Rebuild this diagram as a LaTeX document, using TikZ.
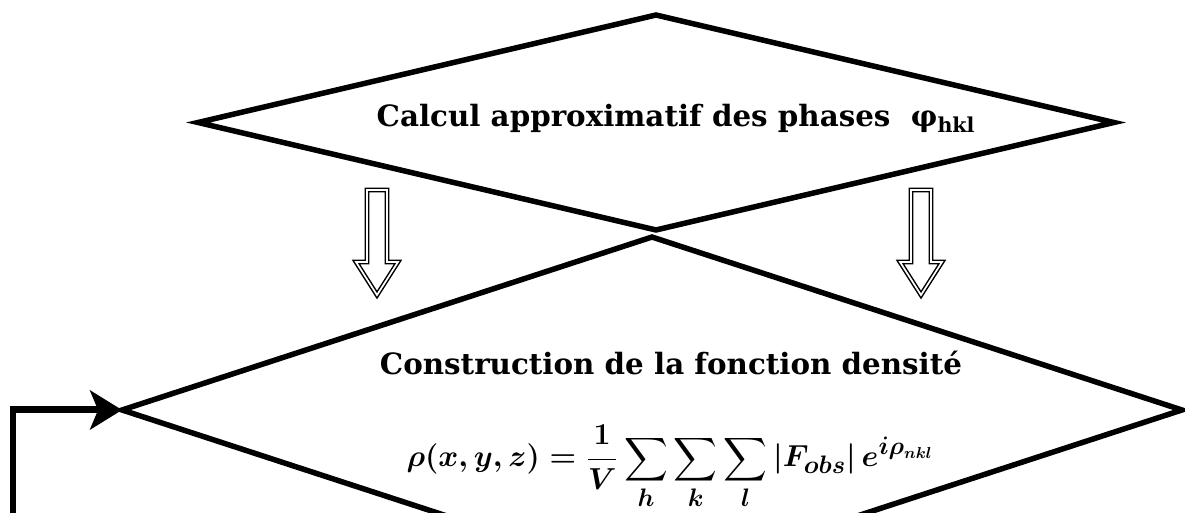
\documentclass[tikz,border=0pt]{standalone}
\usepackage{amsmath}
\usepackage{fontspec}
\setmainfont{DejaVu Serif}
\usetikzlibrary{shapes.geometric, arrows.meta, positioning}
\tikzstyle{decision} = [diamond, draw=black, line width=0.11cm, inner sep=0pt, outer sep=0pt]
\tikzstyle{hollow} = [draw=black, fill=white, double=white, line width=0.03cm, double distance=0.034cm, line join=miter]
\tikzstyle{feedback} = [line width=0.14cm, -{Stealth[length=0.64cm, width=0.78cm, inset=0.16cm]}]
\tikzstyle{label} = [font=\bfseries\fontsize{16.7}{20}\selectfont, inner sep=0pt]

\begin{document}
\begin{tikzpicture}[x=0.02cm, y=0.02cm]
\clip (0,0) rectangle (1185,513);

% Diamonds
\node (phase) [decision, minimum width=18.32cm, minimum height=4.3cm] at (656,390.5) {};
\node (dens) [decision, minimum width=21.2cm, minimum height=6.92cm] at (652,103) {};

% Texts
\node (phasetxt) [label, anchor=base] at (676,386) {Calcul approximatif des phases~~φ\textsubscript{hkl}};
\node (denstxt) [label, anchor=base] at (671,138) {Construction de la fonction densité};
\node (formula) [inner sep=0pt, anchor=base, font=\fontsize{19}{23}\selectfont\boldmath] at (670,46)
  {$\displaystyle \rho(x,y,z)=\frac{1}{V}\sum_{h}\sum_{k}\sum_{l}|F_{obs}|\,e^{i\rho_{nkl}}$};

% Hollow arrows between the diamonds
\coordinate (arrL) at (377,323);
\coordinate (arrR) at (921,323);
\foreach \a in {arrL, arrR}
  \draw [hollow] (\a) ++(-10,0) -- ++(0,-72) -- ++(-11,0) -- ++(21,-33) -- ++(21,33) -- ++(-11,0) -- ++(0,72) -- cycle;

% Feedback loop
\coordinate (loopin) at (13,-20);
\draw [feedback] (loopin) |- (dens.west);

\end{tikzpicture}
\end{document}
